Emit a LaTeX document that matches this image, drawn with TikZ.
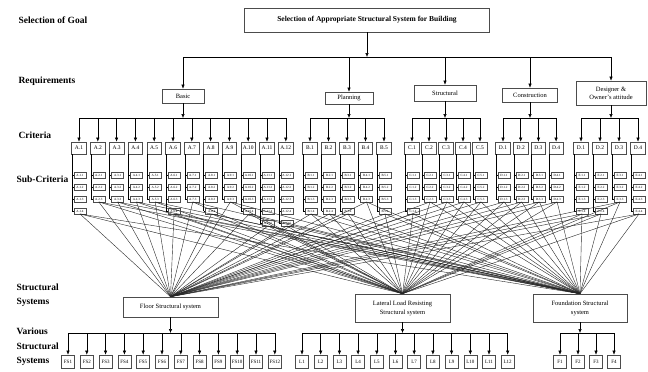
\documentclass[tikz,border=0pt]{standalone}
\usepackage{fontspec}
\setmainfont{Liberation Serif}
\usetikzlibrary{arrows.meta, positioning}

\begin{document}
\begin{tikzpicture}[
  x=1pt, y=-1pt,
  box/.style={rectangle, draw=black!70, line width=0.6pt, align=center, inner sep=1pt},
  reqbox/.style={box, font=\fontsize{6.5}{8}\selectfont},
  critbox/.style={box, minimum width=14.5pt, minimum height=12pt, inner sep=0pt,
                  font=\fontsize{5.5}{6}\selectfont},
  subbox/.style={box, line width=0.4pt, minimum width=12pt, minimum height=5.5pt,
                 inner sep=0pt, font=\fontsize{3.2}{3.5}\selectfont},
  sysbox/.style={box, font=\fontsize{6.5}{9}\selectfont},
  altbox/.style={box, minimum width=13pt, minimum height=13pt, inner sep=0.5pt,
                 font=\fontsize{5}{6}\selectfont},
  level/.style={anchor=west, align=left, font=\bfseries\fontsize{9.5}{14.5}\selectfont},
  arrow/.style={-{Latex[length=4pt,width=3.4pt]}, line width=0.5pt},
  link/.style={line width=0.4pt, black!85}
]
\useasboundingbox (0,0) rectangle (648,372);

% row titles
\node[level] (tgoal) at (15,20) {Selection of Goal};
\node[level] (treq) at (15,81) {Requirements};
\node[level] (tcrit) at (15,135) {Criteria};
\node[level] (tsub) at (13,179) {Sub-Criteria};
\node[level] (tsys) at (13,295) {Structural\\Systems};
\node[level] (tvar) at (13,347) {Various\\Structural\\Systems};

% goal and requirements
\node[box, line width=0.9pt, minimum width=245pt, minimum height=24pt,
      font=\bfseries\fontsize{7.5}{9}\selectfont] (goal) at (367,20)
      {Selection of Appropriate Structural System for Building};
\node[reqbox, minimum width=42pt, minimum height=14pt] (basic) at (183,96) {Basic};
\node[reqbox, minimum width=48pt, minimum height=12pt] (planning) at (349,98) {Planning};
\node[reqbox, minimum width=62pt, minimum height=16pt] (structural) at (445,93) {Structural};
\node[reqbox, minimum width=55pt, minimum height=14pt] (construction) at (530,95) {Construction};
\node[reqbox, minimum width=70pt, minimum height=24pt] (designer) at (611,93) {Designer \&\\Owner's attitude};
\coordinate (split) at (367,57);
\draw[arrow] (goal) -- (split);
\draw (basic |- split) -- (designer |- split);
\foreach \r in {basic,planning,structural,construction,designer}
  \draw[arrow] (\r |- split) -- (\r.north);

% structural systems
\node[sysbox, minimum width=95pt, minimum height=20pt] (floor) at (170.5,307) {Floor Structural system};
\node[sysbox, minimum width=95pt, minimum height=28pt] (lateral) at (402.5,308) {Lateral Load Resisting\\Structural system};
\node[sysbox, minimum width=94pt, minimum height=28pt] (foundation) at (580,308) {Foundation Structural\\system};

% criteria, sub-criteria and their links to the systems
\foreach \g/\L/\S/\req/\xa/\dx/\n/\counts in {
    a/A/A/basic/79/18.8/12/{4,3,3,3,3,4,3,4,3,4,5,5},
    b/B/B/planning/310/18.5/5/{4,4,4,3,4},
    c/C/C/structural/412/17/5/{4,3,3,3,3},
    d/D/D/construction/503/17.7/4/{3,3,3,3},
    e/D/E/designer/581/19/4/{4,4,3,4}} {
  \draw[arrow] (\req.south) -- (\req.south |- 0,118);
  \draw (\xa,118) -- (\xa+\n*\dx-\dx,118);
  \foreach \c [count=\i] in \counts {
    \pgfmathsetmacro\xx{\xa+(\i-1)*\dx}
    \node[critbox] (\g\i) at (\xx,148) {\L.\i};
    \draw[arrow] (\xx,118) -- (\g\i.north);
    \draw (\xx-7,154) -- (\xx-7,163+12*\c);
    \foreach \j in {1,...,\c} {
      \node[subbox] (\g\i-\j) at (\xx+1,163+12*\j) {\S.\i.\j};
      \draw (\xx-7,163+12*\j) -- (\g\i-\j.west);
    }
    \foreach \t in {floor,lateral,foundation}
      \draw[link] (\g\i-\c.south) -- (\t.north);
  }
}

% various structural systems
\foreach \sys/\P/\xa/\dx/\n in {floor/FS/68/18.8/12, lateral/L/302/18.7/12, foundation/F/560/18/4} {
  \draw[arrow] (\sys.south) -- (\sys.south |- 0,333);
  \draw (\xa,333) -- (\xa+\n*\dx-\dx,333);
  \foreach \i in {1,...,\n} {
    \node[altbox] (\P\i) at (\xa+\i*\dx-\dx,361.5) {\P\i};
    \draw[arrow] (\P\i |- 0,333) -- (\P\i.north);
  }
}
\end{tikzpicture}
\end{document}
